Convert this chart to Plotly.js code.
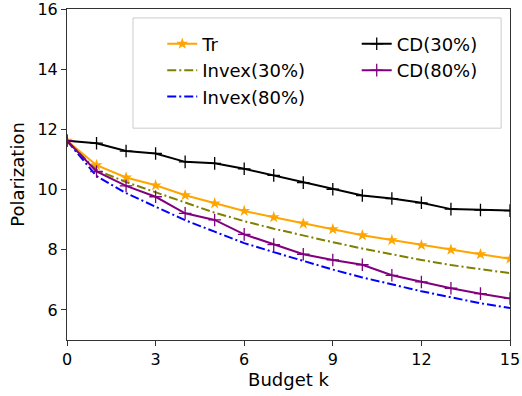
<!DOCTYPE html>
<html><head><meta charset="utf-8">
<script src="https://cdn.plot.ly/plotly-3.0.1.min.js"></script>
<style>html,body{margin:0;padding:0;background:#fff}#chart{width:522px;height:396px}</style>
</head><body><div id="chart"></div>
<script>
const budget = [0,1,2,3,4,5,6,7,8,9,10,11,12,13,14,15];
const tr      = [11.62,10.81,10.40,10.14,9.81,9.54,9.29,9.08,8.87,8.68,8.48,8.32,8.15,8.00,7.85,7.70];
const invex30 = [11.62,10.65,10.25,9.92,9.57,9.23,8.95,8.70,8.47,8.25,8.04,7.84,7.66,7.49,7.35,7.22];
const invex80 = [11.62,10.45,9.88,9.42,8.98,8.60,8.22,7.92,7.62,7.34,7.08,6.84,6.62,6.42,6.22,6.06];
const cd30    = [11.62,11.54,11.28,11.20,10.92,10.87,10.69,10.47,10.23,10.01,9.80,9.70,9.56,9.35,9.32,9.30];
const cd80    = [11.62,10.60,10.12,9.76,9.21,8.99,8.51,8.17,7.85,7.66,7.50,7.15,6.93,6.72,6.54,6.38];
const xTicks = [0,3,6,9,12,15];
const yTicks = [6,8,10,12,14,16];

const dd = "9px,3px,2px,3px";
const traces = [
  {x:budget,y:tr,name:'Tr',mode:'lines+markers',line:{color:'#FFA500',width:2},marker:{symbol:'star',size:9,color:'#FFA500'},legend:'legend'},
  {x:budget,y:invex30,name:'Invex(30%)',mode:'lines',line:{color:'#808000',width:2,dash:dd},legend:'legend'},
  {x:budget,y:invex80,name:'Invex(80%)',mode:'lines',line:{color:'#0000FF',width:2,dash:dd},legend:'legend'},
  {x:budget,y:cd30,name:'CD(30%)',mode:'lines+markers',line:{color:'#000000',width:2},marker:{symbol:'cross-thin',size:9,line:{color:'#000000',width:1.3}},legend:'legend2'},
  {x:budget,y:cd80,name:'CD(80%)',mode:'lines+markers',line:{color:'#800080',width:2},marker:{symbol:'cross-thin',size:9,line:{color:'#800080',width:1.3}},legend:'legend2'}
];
const tickFont = {family:'DejaVu Sans',size:16,color:'#000'};
const bigFont = {family:'DejaVu Sans',size:18,color:'#000'};
const layout = {
  width:522,height:396,
  margin:{l:67,r:12,t:9,b:56},
  paper_bgcolor:'#fff',plot_bgcolor:'#fff',
  font:tickFont,
  showlegend:true,
  xaxis:{range:[0,15],tickvals:xTicks,ticks:'outside',ticklen:5,tickcolor:'#333',showline:true,linecolor:'#333',linewidth:1,mirror:true,showgrid:false,zeroline:false,
    title:{text:'Budget k',font:bigFont,standoff:2},tickfont:tickFont,ticklabeloverflow:'allow'},
  yaxis:{range:[5,16.0001],tickvals:yTicks,ticks:'outside',ticklen:5,tickcolor:'#333',showline:true,linecolor:'#333',linewidth:1,mirror:true,showgrid:false,zeroline:false,
    title:{text:'Polarization',font:bigFont,standoff:8},tickfont:tickFont,ticklabeloverflow:'allow'},
  legend:{x:0.215,y:0.95,xanchor:'left',yanchor:'top',bgcolor:'rgba(0,0,0,0)',borderwidth:0,font:bigFont,tracegroupgap:0,itemwidth:30},
  legend2:{x:0.654,y:0.95,xanchor:'left',yanchor:'top',bgcolor:'rgba(0,0,0,0)',borderwidth:0,font:bigFont,tracegroupgap:0,itemwidth:30},
  shapes:[{type:'rect',xref:'paper',yref:'paper',x0:0.149,x1:0.98,y0:0.64,y1:0.973,line:{color:'#cccccc',width:1},fillcolor:'rgba(255,255,255,0.8)',layer:'below'}]
};
Plotly.newPlot('chart',traces,layout,{displayModeBar:false,staticPlot:true});
</script></body></html>
